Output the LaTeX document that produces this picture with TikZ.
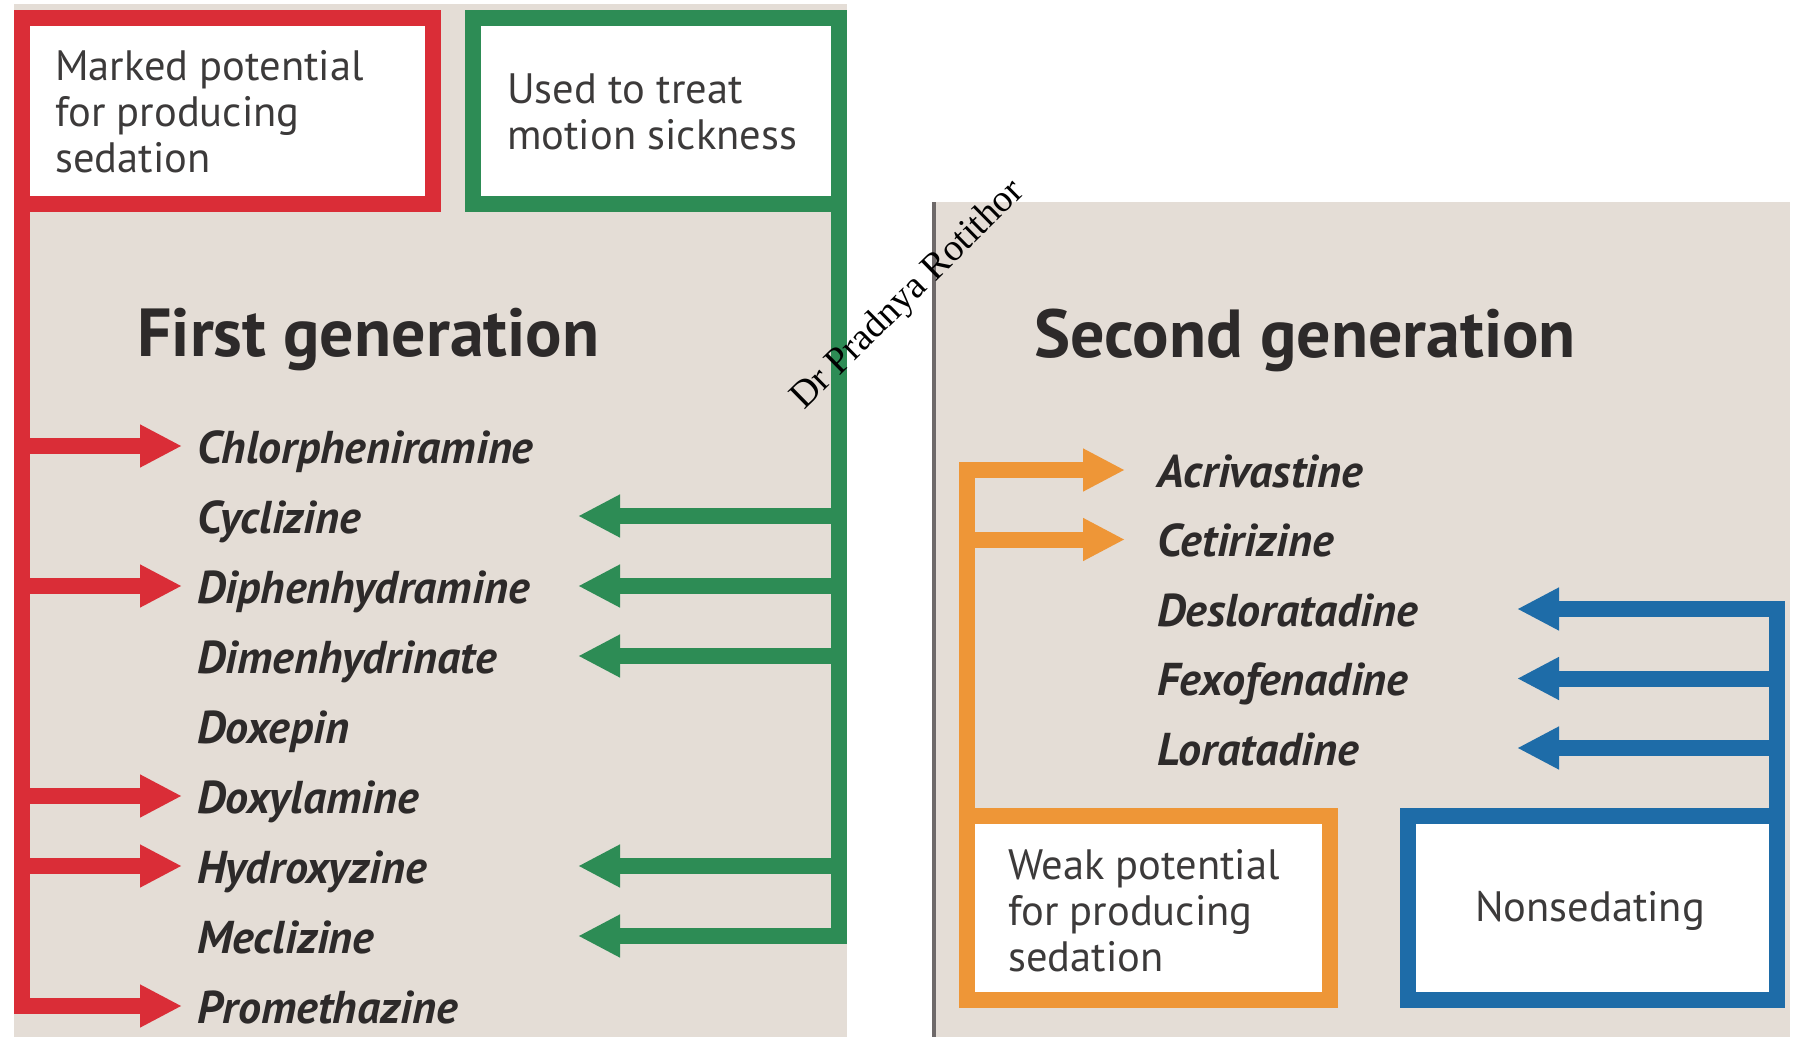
\documentclass[tikz,border=0pt]{standalone}
\usepackage{fontspec}
\setmainfont{PT Sans}
\newfontfamily\wmfont{Liberation Serif}
\usetikzlibrary{arrows.meta}
\definecolor{bg}{RGB}{228,221,214}
\definecolor{myred}{RGB}{218,45,55}
\definecolor{mygreen}{RGB}{45,140,85}
\definecolor{myorange}{RGB}{238,150,55}
\definecolor{myblue}{RGB}{30,108,168}
\definecolor{txt}{RGB}{45,42,42}
\definecolor{boxtxt}{RGB}{60,58,58}
\definecolor{panelline}{RGB}{110,105,105}
\begin{document}
\begin{tikzpicture}[x=1pt,y=-1pt,
  lw/.style={line width=16pt},
  catbox/.style={lw, fill=white, outer sep=0pt, inner sep=0pt, anchor=north west},
  arr/.style={lw, -{Triangle[length=42pt,width=40pt]}},
  drug/.style={anchor=west, inner sep=0pt, text=txt, font=\fontsize{46}{52}\selectfont\bfseries\itshape, text height=44pt, text depth=10pt},
  heading/.style={anchor=base west, inner sep=0pt, text=txt, font=\fontsize{68}{74}\selectfont\bfseries},
  boxtext/.style={anchor=west, inner sep=0pt, align=left, text=boxtxt, font=\fontsize{42.5}{46}\selectfont},
]
\useasboundingbox (0,0) rectangle (1797,1041);
\fill[white] (0,0) rectangle (1797,1041);
% panels
\fill[bg] (14,4) rectangle (847,1037);
\fill[bg] (934,202) rectangle (1790,1037);
\draw[panelline, line width=4pt] (934,202) -- (934,1037);

% coordinates for arrow tips
\coordinate (gtip) at (578,0);
\coordinate (otip) at (1125,0);
\coordinate (btip) at (1517,0);

% category boxes
\node[catbox, draw=myred, minimum width=411pt, minimum height=186pt] (redbox) at (22,18) {};
\node[catbox, draw=mygreen, minimum width=366pt, minimum height=186pt] (greenbox) at (472.5,18) {};
\node[catbox, draw=myorange, minimum width=363pt, minimum height=184pt] (orangebox) at (967,816) {};
\node[catbox, draw=myblue, minimum width=369pt, minimum height=184pt] (bluebox) at (1408,816) {};

\node[boxtext] (redtext) at (55,112) {Marked potential\\for producing\\sedation};
\node[boxtext] (greentext) at (507,112) {Used to treat\\motion sickness};
\node[boxtext] (orangetext) at (1008,911) {Weak potential\\for producing\\sedation};
\node[boxtext, anchor=center] (bluetext) at (1590,911) {Nonsedating};

% headings
\node[heading] (first) at (137,356) {First generation};
\node[heading] (second) at (1034,357) {Second generation};

% first generation drugs
\node[drug] (chl) at (197,446) {Chlorpheniramine};
\node[drug] (cyc) at (197,516) {Cyclizine};
\node[drug] (diph) at (197,586) {Diphenhydramine};
\node[drug] (dimen) at (197,656) {Dimenhydrinate};
\node[drug] (doxe) at (197,726) {Doxepin};
\node[drug] (doxy) at (197,796) {Doxylamine};
\node[drug] (hydr) at (197,866) {Hydroxyzine};
\node[drug] (mecl) at (197,936) {Meclizine};
\node[drug] (prom) at (197,1006) {Promethazine};

% second generation drugs
\node[drug] (acri) at (1157,470) {Acrivastine};
\node[drug] (ceti) at (1157,539.5) {Cetirizine};
\node[drug] (deslo) at (1157,609) {Desloratadine};
\node[drug] (fexo) at (1157,678.5) {Fexofenadine};
\node[drug] (lora) at (1157,748) {Loratadine};

% red connectors
\draw[arr, myred] (redbox.south west) |- ([xshift=-15pt]prom.west);
\foreach \d in {chl,diph,doxy,hydr}
  \draw[arr, myred] (redbox.south west |- \d) -- ([xshift=-15pt]\d.west);

% green connectors
\draw[arr, mygreen] (greenbox.south east) |- (gtip |- mecl);
\foreach \d in {cyc,diph,dimen,hydr}
  \draw[arr, mygreen] (greenbox.south east |- \d) -- (gtip |- \d);

% orange connectors
\draw[arr, myorange] (orangebox.north west) |- (otip |- acri);
\draw[arr, myorange] (orangebox.north west |- ceti) -- (otip |- ceti);

% blue connectors
\draw[arr, myblue] (bluebox.north east) |- (btip |- deslo);
\foreach \d in {fexo,lora}
  \draw[arr, myblue] (bluebox.north east |- \d) -- (btip |- \d);

% watermark
\node[rotate=44.5, anchor=base west, inner sep=0pt, font=\wmfont\fontsize{38}{40}\selectfont] (wm) at (804,411) {Dr Pradnya Rotithor};
\end{tikzpicture}
\end{document}
